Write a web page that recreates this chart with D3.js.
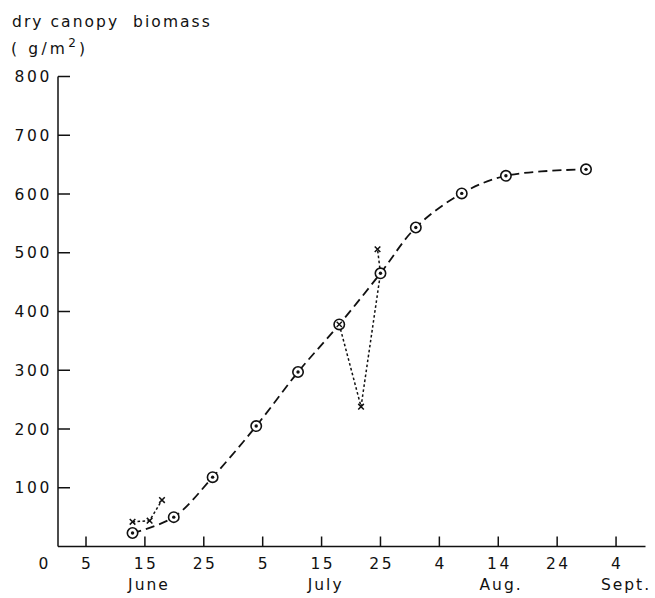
<!DOCTYPE html>
<html>
<head>
<meta charset="utf-8">
<script src="https://cdn.jsdelivr.net/npm/d3@7"></script>
<style>
  html, body { margin: 0; padding: 0; background: #fff; }
  svg text { font-family: "DejaVu Sans", sans-serif; fill: #111; }
</style>
</head>
<body>
<svg id="chart" width="655" height="598"></svg>
<script>
// Days counted from 31 May (1 = 1 June), biomass in g/m^2
const sampleDays    = [12.9, 19.9, 26.5, 33.9, 41.0, 48.0, 55.0, 61.0, 68.8, 76.3, 89.9];
const sampleBiomass = [23, 50, 118, 205, 297, 378, 465, 543, 601, 631, 642];

// Deviating harvests, drawn as crosses joined by dotted lines
const earlyDays    = [12.9, 15.8, 17.9];
const earlyBiomass = [42, 44, 79];
const lateDays     = [48.0, 51.7, 55.0, 54.5];
const lateBiomass  = [378, 238, 465, 506];
const lateIsCross  = [false, true, false, true];

// Index of the sample marked with a crossed circle
const crossedSample = 5;

const yTicks = [100, 200, 300, 400, 500, 600, 700, 800];
const xTickDays   = [5, 15, 25, 35, 45, 55, 65, 75, 85, 95];
const xTickLabels = ["5", "15", "25", "5", "15", "25", "4", "14", "24", "4"];
const monthNames = ["June", "July", "Aug.", "Sept."];
const monthDays  = [15.5, 45.5, 75.3, 96.5];

const svg = d3.select("#chart");
const x = d3.scaleLinear().domain([0, 100]).range([56.56, 645.5]);
const y = d3.scaleLinear().domain([0, 800]).range([546.5, 76.5]);
const x0 = 58;

const ink = "#111";

// Axes
svg.append("line").attr("x1", x0).attr("x2", x0).attr("y1", y(800)).attr("y2", y(0))
  .attr("stroke", ink).attr("stroke-width", 1.5);
svg.append("line").attr("x1", x0).attr("x2", x(100)).attr("y1", y(0)).attr("y2", y(0))
  .attr("stroke", ink).attr("stroke-width", 1.5);

svg.selectAll(".ytick").data(yTicks).enter().append("line")
  .attr("x1", x0).attr("x2", x0 + 12).attr("y1", d => y(d)).attr("y2", d => y(d))
  .attr("stroke", ink).attr("stroke-width", 1.5);
svg.selectAll(".ylab").data(yTicks).enter().append("text")
  .attr("x", 52).attr("y", d => y(d) + 5.5).attr("text-anchor", "end")
  .attr("font-size", 15.5).attr("letter-spacing", 2.6).text(d => d);

svg.selectAll(".xtick").data(xTickDays).enter().append("line")
  .attr("x1", d => x(d)).attr("x2", d => x(d)).attr("y1", y(0)).attr("y2", y(0) - 10)
  .attr("stroke", ink).attr("stroke-width", 1.5);
svg.selectAll(".xlab").data(xTickDays).enter().append("text")
  .attr("x", d => x(d) + 1.2).attr("y", 569).attr("text-anchor", "middle")
  .attr("font-size", 15.5).attr("letter-spacing", 2.5).text((d, i) => xTickLabels[i]);
svg.append("text").attr("x", 43.5).attr("y", 569).attr("text-anchor", "middle")
  .attr("font-size", 15.5).text("0");

svg.selectAll(".month").data(monthNames).enter().append("text")
  .attr("x", (d, i) => x(monthDays[i]) + 1.1).attr("y", 590).attr("text-anchor", "middle")
  .attr("font-size", 15.5).attr("letter-spacing", 2.0).text(d => d);

// Axis title
svg.append("text").attr("x", 12).attr("y", 26.5).attr("font-size", 15.5)
  .attr("letter-spacing", 2.05).style("white-space", "pre")
  .text("dry canopy  biomass");
const unit = svg.append("text").attr("x", 11).attr("y", 53.5).attr("font-size", 15.5)
  .attr("letter-spacing", 3.2).style("white-space", "pre");
unit.append("tspan").text("( g/m");
unit.append("tspan").attr("dy", -6.5).attr("font-size", 12).text("2");
unit.append("tspan").attr("dy", 6.5).text(")");

// Dotted connections between deviating harvests
const dotted = d3.line().x(d => x(d[0])).y(d => y(d[1]));
svg.append("path")
  .attr("d", dotted(earlyDays.map((d, i) => [d, earlyBiomass[i]])))
  .attr("fill", "none").attr("stroke", ink).attr("stroke-width", 1.5).attr("stroke-dasharray", "2.6,2.4");
svg.append("path")
  .attr("d", dotted(lateDays.map((d, i) => [d, lateBiomass[i]])))
  .attr("fill", "none").attr("stroke", ink).attr("stroke-width", 1.5).attr("stroke-dasharray", "2.6,2.4");

// Smooth dashed growth curve through the samples
const curve = d3.line().x(d => x(d[0])).y(d => y(d[1])).curve(d3.curveCatmullRom.alpha(0.5));
svg.append("path")
  .attr("d", curve(sampleDays.map((d, i) => [d, sampleBiomass[i]])))
  .attr("fill", "none").attr("stroke", ink).attr("stroke-width", 1.8).attr("stroke-dasharray", "9,5");

// Cross markers
function drawCross(cx, cy, r) {
  svg.append("path")
    .attr("d", `M${cx - r},${cy - r}L${cx + r},${cy + r}M${cx - r},${cy + r}L${cx + r},${cy - r}`)
    .attr("stroke", ink).attr("stroke-width", 1.5).attr("fill", "none");
}
earlyDays.forEach((d, i) => drawCross(x(d), y(earlyBiomass[i]), 2.8));
lateDays.forEach((d, i) => { if (lateIsCross[i]) drawCross(x(d), y(lateBiomass[i]), 2.8); });

// Sample markers: circle with centre dot (crossed circle for one sample)
const g = svg.selectAll(".sample").data(sampleDays.map((d, i) => [d, sampleBiomass[i], i])).enter()
  .append("g").attr("transform", d => `translate(${x(d[0])},${y(d[1])})`);
g.append("circle").attr("r", 5.2).attr("fill", "#fff").attr("stroke", ink).attr("stroke-width", 1.6);
g.filter(d => d[2] !== crossedSample).append("circle").attr("r", 1.7).attr("fill", ink);
g.filter(d => d[2] === crossedSample).append("path")
  .attr("d", "M-2.6,-2.6L2.6,2.6M-2.6,2.6L2.6,-2.6").attr("stroke", ink).attr("stroke-width", 1.4);
</script>
</body>
</html>
